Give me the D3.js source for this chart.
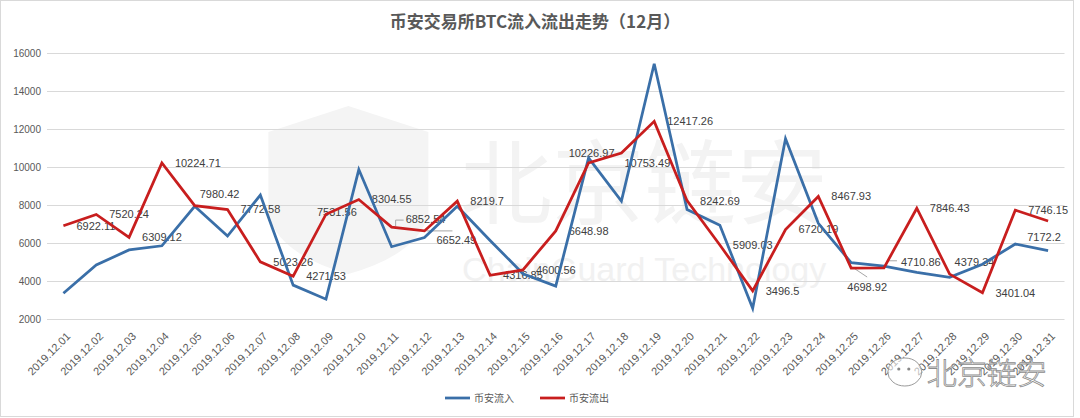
<!DOCTYPE html>
<html><head><meta charset="utf-8">
<script src="https://cdn.jsdelivr.net/npm/d3@7"></script>
<style>
html,body{margin:0;padding:0;background:#fff;}
svg{display:block;}
</style></head>
<body><svg id="c" width="1080" height="418"></svg>
<script>
const categories = ["2019.12.01","2019.12.02","2019.12.03","2019.12.04","2019.12.05","2019.12.06","2019.12.07","2019.12.08","2019.12.09","2019.12.10","2019.12.11","2019.12.12","2019.12.13","2019.12.14","2019.12.15","2019.12.16","2019.12.17","2019.12.18","2019.12.19","2019.12.20","2019.12.21","2019.12.22","2019.12.23","2019.12.24","2019.12.25","2019.12.26","2019.12.27","2019.12.28","2019.12.29","2019.12.30","2019.12.31"];
const inflow = [3370,4860,5650,5870,7950,6380,8540,3800,3060,9880,5820,6300,7950,6150,4400,3750,10500,8220,15450,7780,6950,2580,11500,7050,4980,4800,4470,4210,4900,5960,5610];
const outflow = [6922.11,7520.24,6309.12,10224.71,7980.42,7772.58,5023.26,4271.53,7531.56,8304.55,6852.54,6652.49,8219.7,4316.85,4600.56,6648.98,10226.97,10753.49,12417.26,8242.69,5909.03,3496.5,6720.19,8467.93,4698.92,4710.86,7846.43,4379.34,3401.04,7746.15,7172.2];
const yTicks = [2000,4000,6000,8000,10000,12000,14000,16000];
const seriesNames = ["币安流入","币安流出"];
const title = "币安交易所BTC流入流出走势（12月）";

const W = 1080, H = 418;
const svg = d3.select("#c");
const m = {left:47, right:1064.5, top:53.3, bottom:319.3};
const x = d3.scaleBand().domain(categories).range([m.left, m.right]);
const y = d3.scaleLinear().domain([2000,16000]).range([m.bottom, m.top]);
const cx = d => x(d) + x.bandwidth()/2;
const fontLatin = "'Liberation Sans', Arial, 'Noto Sans CJK SC', sans-serif";
const fontCJK = "'Noto Sans CJK SC', 'Liberation Sans', sans-serif";

// chart frame
svg.append("rect").attr("x",0.5).attr("y",0.5).attr("width",1073).attr("height",416)
  .attr("fill","#fff").attr("stroke","#d9d9d9");

// faint watermark
const wm = svg.append("g").attr("pointer-events","none");
const sx = cx(categories[6]) + 8, sy = y(12800);
wm.append("path")
  .attr("d", `M${sx},${sy+18} L${sx+80},${sy-8} L${sx+160},${sy+18} L${sx+160},${sy+100} Q${sx+150},${sy+140} ${sx+80},${sy+160} Q${sx+10},${sy+140} ${sx},${sy+100} Z`)
  .attr("fill","#f4f4f4");
wm.append("text").attr("x", cx(categories[13]) - 30).attr("y", y(7400))
  .attr("font-family", fontCJK).attr("font-size", 92).attr("fill","#f3f3f3").text("北京链安");
wm.append("text").attr("x", cx(categories[13]) - 28).attr("y", y(4000))
  .attr("font-family", fontLatin).attr("font-size", 34).attr("fill","#f1f1f1").text("ChainGuard Technology");

// gridlines
svg.append("g").selectAll("line").data(yTicks).join("line")
  .attr("x1", m.left).attr("x2", m.right)
  .attr("y1", d => Math.round(y(d))+0.5).attr("y2", d => Math.round(y(d))+0.5)
  .attr("stroke","#d9d9d9").attr("stroke-width",1);

// y axis labels
const yAxis = d3.axisLeft(y).tickValues(yTicks).tickFormat(d3.format("d")).tickSize(0).tickPadding(6);
const ga = svg.append("g").attr("transform", `translate(${m.left},0)`).call(yAxis);
ga.select(".domain").remove();
ga.selectAll("text").attr("font-family", fontLatin).attr("font-size", 10).attr("fill","#595959");

// x axis labels
const xAxis = d3.axisBottom(x).tickSize(0).tickPadding(0);
const gx = svg.append("g").attr("transform", `translate(0,${m.bottom})`).call(xAxis);
gx.select(".domain").remove();
gx.selectAll("text")
  .attr("font-family", fontLatin).attr("font-size", 11).attr("fill","#595959")
  .attr("text-anchor","end")
  .attr("dy", "0.35em")
  .attr("transform", "translate(5,15) rotate(-45)");

// data labels (outflow) - drawn beneath the lines, as in the reference
const labelPlace = {4:"aboveright", 8:"left", 10:"upright", 11:"downright", 16:"above", 17:"belowright", 24:"below", 25:"upright2", 27:"aboveright", 30:"below"};
const lg = svg.append("g").attr("font-family", fontLatin).attr("font-size", 11).attr("fill","#404040");
outflow.forEach((v,i) => {
  const px = cx(categories[i]), py = y(v);
  let tx = px + 13, ty = py, anchor = "start";
  const p = labelPlace[i];
  if (p === "left") { tx = px - 9; ty = py - 2; }
  else if (p === "upright") { tx = px + 14; ty = py - 8;
    svg.append("path").attr("d", `M${px+4},${py-1} L${px+4},${py-7} L${px+12},${py-7}`).attr("fill","none").attr("stroke","#a6a6a6"); }
  else if (p === "downright") { tx = px + 12; ty = py + 9;
    svg.append("path").attr("d", `M${px+2},${py} L${px+28},${py}`).attr("fill","none").attr("stroke","#a6a6a6"); }
  else if (p === "above") { tx = px + 3; ty = py - 10; anchor = "middle"; }
  else if (p === "belowright") { tx = px + 3; ty = py + 10; }
  else if (p === "below") { tx = px - 4; ty = py + 16; anchor = "middle";
    if (i === 24) { tx = px + 16; ty = py + 19;
      svg.append("path").attr("d", `M${px+1},${py-1} L${px+16},${py+9}`).attr("fill","none").attr("stroke","#a6a6a6"); }
  }
  else if (p === "upright2") { tx = px + 17; ty = py - 6;
    svg.append("path").attr("d", `M${px+3},${py-7} L${px+13},${py-7}`).attr("fill","none").attr("stroke","#a6a6a6"); }
  else if (p === "aboveright") { tx = px + 5; ty = py - 12; }
  lg.append("text").attr("x", tx).attr("y", ty).attr("dy","0.35em").attr("text-anchor", anchor).text(v);
});

// lines
const line = d3.line().x((d,i) => cx(categories[i])).y(d => y(d));
svg.append("path").datum(inflow).attr("d", line)
  .attr("fill","none").attr("stroke","#3a6fa8").attr("stroke-width",2.75).attr("stroke-linejoin","miter");
svg.append("path").datum(outflow).attr("d", line)
  .attr("fill","none").attr("stroke","#c81e1e").attr("stroke-width",2.75).attr("stroke-linejoin","miter");

// bottom-right wechat watermark
const bw = svg.append("g");
const bx = cx(categories[26]) - 30, by = 378;
bw.append("ellipse").attr("cx", bx+18).attr("cy", by-6).attr("rx", 17).attr("ry", 14)
  .attr("fill","#fff").attr("fill-opacity",0.6).attr("stroke","#9a9a9a").attr("stroke-width",1);
bw.append("circle").attr("cx", bx+12).attr("cy", by-9).attr("r",1.6).attr("fill","#888");
bw.append("circle").attr("cx", bx+22).attr("cy", by-9).attr("r",1.6).attr("fill","#888");
bw.append("text").attr("x", bx+40).attr("y", by+6)
  .attr("font-family", fontCJK).attr("font-size", 30).attr("font-weight", 300)
  .attr("fill","#fff").attr("fill-opacity",0.5).attr("stroke","#8c8c8c").attr("stroke-width",0.8)
  .text("北京链安");

// legend
const leg = svg.append("g").attr("font-family", fontCJK).attr("font-size", 10).attr("fill","#595959");
const legX = [445, 540], colors = ["#3a6fa8","#c81e1e"];
seriesNames.forEach((n,i) => {
  leg.append("line").attr("x1", legX[i]).attr("x2", legX[i]+25).attr("y1",398).attr("y2",398)
    .attr("stroke", colors[i]).attr("stroke-width",2.75);
  leg.append("text").attr("x", legX[i]+29).attr("y",398).attr("dy","0.35em").text(n);
});

// title
svg.append("text").attr("x", 535).attr("y", 28).attr("text-anchor","middle")
  .attr("font-family", fontCJK).attr("font-size", 17).attr("font-weight","bold").attr("fill","#595959")
  .text(title);
</script>
</body></html>
